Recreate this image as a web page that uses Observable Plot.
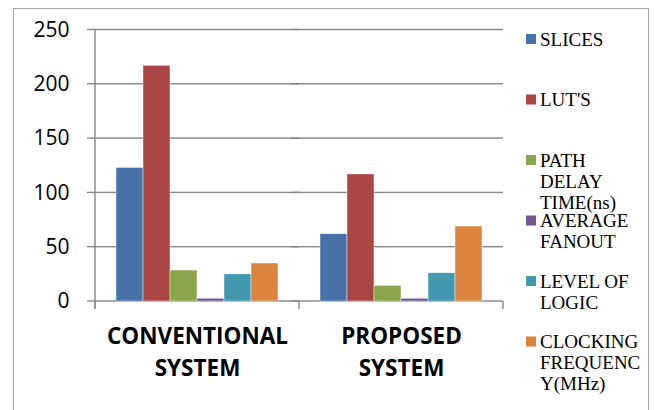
<!DOCTYPE html>
<html>
<head>
<meta charset="utf-8">
<script src="https://cdn.jsdelivr.net/npm/d3@7"></script>
<script src="https://cdn.jsdelivr.net/npm/@observablehq/plot@0.6"></script>
<style>
  html, body { margin: 0; padding: 0; background: #fff; overflow: hidden; }
  #wrap { position: relative; width: 654px; height: 410px; }
  #chart svg { font-family: 'Open Sans', sans-serif; background: #fff; color: #000; }
  #border { position: absolute; left: 13px; top: 8px; width: 634px; height: 420px; border: 1.5px solid #a3a3a3; pointer-events: none; }
</style>
</head>
<body>
<div id="wrap"><div id="chart"></div><div id="border"></div></div>
<script>
const categories = ["CONVENTIONAL SYSTEM", "PROPOSED SYSTEM"];
const series = ["SLICES", "LUT'S", "PATH DELAY TIME(ns)", "AVERAGE FANOUT", "LEVEL OF LOGIC", "CLOCKING FREQUENCY(MHz)"];
const conventional = [123, 217, 28.5, 2.5, 25, 35];
const proposed = [62, 117, 14.4, 2.5, 26, 69];
const legendLines = [["SLICES"], ["LUT'S"], ["PATH", "DELAY", "TIME(ns)"], ["AVERAGE", "FANOUT"], ["LEVEL OF", "LOGIC"], ["CLOCKING", "FREQUENC", "Y(MHz)"]];
const colors = ["#4672a8", "#aa4644", "#89a54e", "#71588f", "#4198af", "#db843d"];
const yTicks = [0, 50, 100, 150, 200, 250];

const valuesByCategory = [conventional, proposed];
const data = [];
categories.forEach((c, i) => series.forEach((s, j) => data.push({category: c, series: s, value: valuesByCategory[i][j]})));

const gridColor = "#878787";

const plot = Plot.plot({
  width: 654,
  height: 410,
  marginLeft: 94,
  marginRight: 151,
  marginTop: 29.5,
  marginBottom: 109,
  fx: {domain: categories, padding: 0, axis: null, label: null},
  x: {domain: series, paddingInner: 0, paddingOuter: 0.73, axis: null, label: null},
  y: {domain: [0, 250], axis: null, label: null},
  color: {domain: series, range: colors},
  marks: [
    // gridlines (with the left tick stubs) drawn as thin filled bands
    Plot.rect(yTicks, {y1: d => d, y2: d => d, insetTop: -0.7, insetBottom: -0.7, insetLeft: -8, fill: gridColor}),
    Plot.axisY(yTicks, {label: null, tickSize: 0, tickPadding: 26, fontSize: 21, fill: "#000", tickFormat: d => String(d)}),
    Plot.axisFx({anchor: "bottom", label: null, tickSize: 0, tickPadding: 19, fontSize: 22.5, fontWeight: "bold", lineHeight: 1.44, fill: "#000", tickFormat: d => d.replace(" ", "\n")}),
    Plot.barY(data, {fx: "category", x: "series", y: "value", fill: "series", stroke: "#fff", strokeWidth: 0.8, strokeOpacity: 0.55})
  ]
});

document.getElementById("chart").appendChild(plot);

// y-axis line, category boundary ticks and legend, derived from the plot's scales
const svg = d3.select(plot);
const fx = plot.scale("fx");
const y = plot.scale("y");
const color = plot.scale("color");
const bw = fx.bandwidth != null ? fx.bandwidth : (fx.range[1] - fx.range[0]) / categories.length;
const x0 = fx.apply(categories[0]);
const x1 = fx.apply(categories[categories.length - 1]) + bw;
const yb = y.apply(0);
const yt = y.apply(250);

const g = svg.append("g").attr("stroke", gridColor).attr("stroke-width", 1.4);
g.append("line").attr("x1", x0).attr("x2", x0).attr("y1", yt).attr("y2", yb + 8);
const bounds = categories.map(c => fx.apply(c)).concat([x1]);
bounds.forEach(b => g.append("line").attr("x1", b).attr("x2", b).attr("y1", yb).attr("y2", yb + 8));

const legend = svg.append("g").attr("font-family", "'Liberation Serif', 'Times New Roman', serif").attr("font-size", 19).attr("fill", "#000").attr("text-anchor", "start");
series.forEach((s, i) => {
  const base = 45.7 + 60.5 * i;
  legend.append("rect").attr("x", 526).attr("y", base - 11.7).attr("width", 10).attr("height", 10).attr("fill", color.apply(s));
  legendLines[i].forEach((line, k) => {
    legend.append("text").attr("x", 540).attr("y", base + 21 * k).attr("text-anchor", "start").text(line);
  });
});
</script>
</body>
</html>
